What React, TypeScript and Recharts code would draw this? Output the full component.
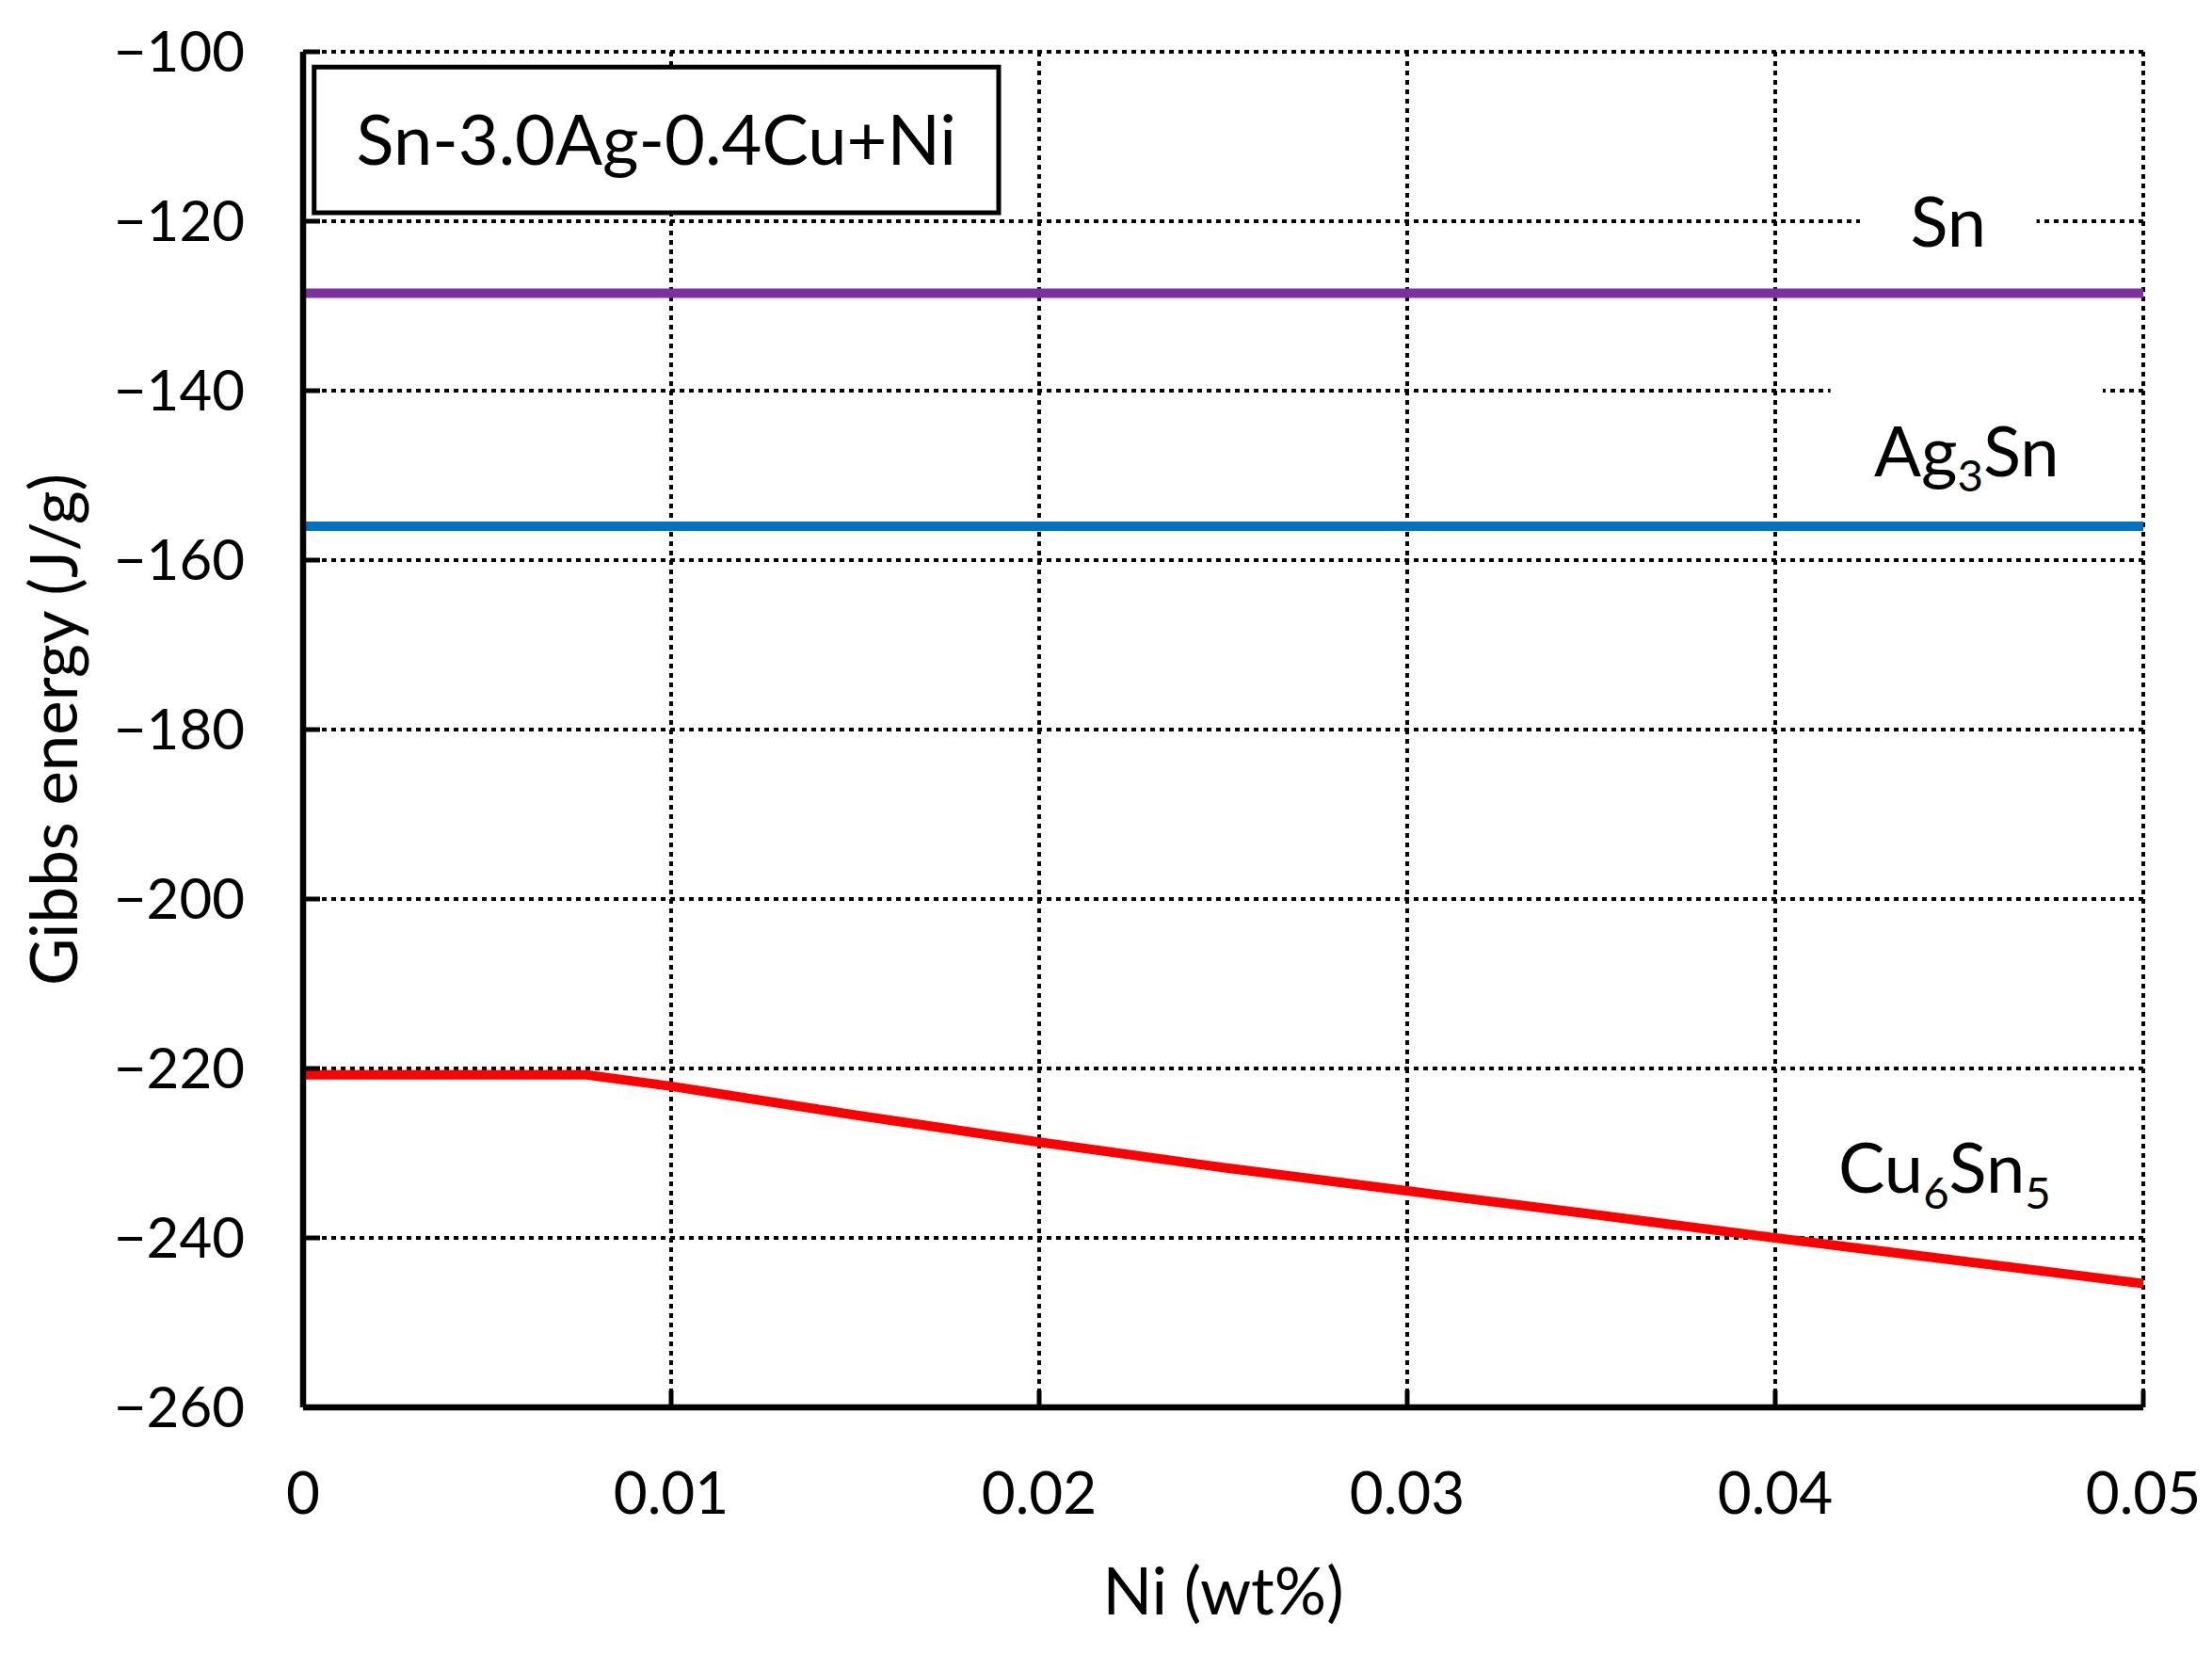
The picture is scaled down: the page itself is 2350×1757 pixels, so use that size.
import React from "react";
import {
  LineChart,
  Line,
  XAxis,
  YAxis,
  CartesianGrid,
  ReferenceArea,
  Label,
} from "recharts";

const niTicks = [0, 0.01, 0.02, 0.03, 0.04, 0.05];
const gibbsTicks = [-260, -240, -220, -200, -180, -160, -140, -120, -100];

const snX = [0, 0.05];
const snG = [-128.5, -128.5];

const ag3snX = [0, 0.05];
const ag3snG = [-156, -156];

const cu6sn5X = [0, 0.0077, 0.01, 0.015, 0.02, 0.025, 0.03, 0.035, 0.04, 0.045, 0.05];
const cu6sn5G = [-220.75, -220.75, -222.1, -225.5, -228.7, -231.7, -234.45, -237.2, -240.0, -242.7, -245.4];

const toRows = (xs: number[], ys: number[]) => xs.map((x, i) => ({ x, g: ys[i] }));

const snData = toRows(snX, snG);
const ag3snData = toRows(ag3snX, ag3snG);
const cu6sn5Data = toRows(cu6sn5X, cu6sn5G);

const FONT = "Lato, 'Noto Sans', sans-serif";

const fmtY = (v: number) => (v < 0 ? "\u2212" + Math.abs(v) : String(v));

// text centred in a reference area's box, with optional subscripts
const phaseLabel =
  (parts: { t: string; sub?: boolean }[], size = 74) =>
  (props: any) => {
    const vb = props.viewBox || {};
    const cx = vb.x + vb.width / 2;
    const cy = vb.y + vb.height / 2;
    const shift = size * 0.22;
    return (
      <text
        x={cx}
        y={cy + size * 0.36}
        textAnchor="middle"
        fontFamily={FONT}
        fontSize={size}
        fill="#000"
      >
        {parts.map((p, i) => {
          if (p.sub)
            return (
              <tspan key={i} fontSize={size * 0.64} dy={shift}>
                {p.t}
              </tspan>
            );
          const back = i > 0 && parts[i - 1].sub;
          return (
            <tspan key={i} dy={back ? -shift : undefined}>
              {p.t}
            </tspan>
          );
        })}
      </text>
    );
  };

export default function App() {
  return (
    <div style={{ position: "absolute", left: 0, top: 0, background: "#fff" }}>
      <LineChart
        width={2350}
        height={1757}
        margin={{ top: 55, right: 73, bottom: 0, left: 0 }}
      >
        <CartesianGrid
          stroke="#000"
          strokeWidth={4}
          strokeDasharray="5 5"
          horizontal
          vertical
        />
        <XAxis
          type="number"
          dataKey="x"
          domain={[0, 0.05]}
          ticks={niTicks}
          allowDataOverflow
          height={262}
          tickSize={-18}
          tickMargin={87}
          tick={{ fontFamily: FONT, fontSize: 62, fill: "#000" }}
          tickLine={{ stroke: "#000", strokeWidth: 5 }}
          axisLine={{ stroke: "#000", strokeWidth: 6.5 }}
        >
          <Label
            content={(p: any) => {
              const vb = p.viewBox;
              return (
                <text
                  x={vb.x + vb.width / 2}
                  y={vb.y + vb.height - 42}
                  textAnchor="middle"
                  fontFamily={FONT}
                  fontSize={69}
                  fill="#000"
                >
                  Ni (wt%)
                </text>
              );
            }}
          />
        </XAxis>
        <XAxis
          xAxisId="top"
          orientation="top"
          type="number"
          domain={[0, 0.05]}
          height={0}
          tick={false}
          tickLine={false}
          axisLine={{ stroke: "#000", strokeWidth: 6.5 }}
        />
        <YAxis
          type="number"
          domain={[-260, -100]}
          ticks={gibbsTicks}
          allowDataOverflow
          width={322}
          tickSize={-18}
          tickMargin={80}
          tickFormatter={fmtY}
          tick={{ fontFamily: FONT, fontSize: 60, fill: "#000" }}
          tickLine={{ stroke: "#000", strokeWidth: 5 }}
          axisLine={{ stroke: "#000", strokeWidth: 6.5 }}
        >
          <Label
            content={(p: any) => {
              const vb = p.viewBox;
              const cy = vb.y + vb.height / 2;
              return (
                <text
                  x={82}
                  y={cy}
                  transform={`rotate(-90, 82, ${cy})`}
                  textAnchor="middle"
                  fontFamily={FONT}
                  fontSize={69}
                  fill="#000"
                >
                  Gibbs energy (J/g)
                </text>
              );
            }}
          />
        </YAxis>
        <YAxis
          yAxisId="right"
          orientation="right"
          type="number"
          domain={[-260, -100]}
          width={0}
          tick={false}
          tickLine={false}
          axisLine={{ stroke: "#000", strokeWidth: 6.5 }}
        />

        <ReferenceArea
          x1={0.0003}
          x2={0.0189}
          y1={-119}
          y2={-101.8}
          fill="#fff"
          fillOpacity={1}
          stroke="#000"
          strokeWidth={5}
          label={phaseLabel([{ t: "Sn-3.0Ag-0.4Cu+Ni" }], 74)}
        />
        <ReferenceArea
          x1={0.0423}
          x2={0.0471}
          y1={-124.5}
          y2={-115.5}
          fill="#fff"
          fillOpacity={1}
          stroke="none"
          label={phaseLabel([{ t: "Sn" }])}
        />
        <ReferenceArea
          x1={0.0415}
          x2={0.0489}
          y1={-156.2}
          y2={-138}
          fill="#fff"
          fillOpacity={1}
          stroke="none"
          label={phaseLabel([{ t: "Ag" }, { t: "3", sub: true }, { t: "Sn" }])}
        />
        <ReferenceArea
          x1={0.0411}
          x2={0.0481}
          y1={-236}
          y2={-227.5}
          fill="none"
          stroke="none"
          label={phaseLabel([
            { t: "Cu" },
            { t: "6", sub: true },
            { t: "Sn" },
            { t: "5", sub: true },
          ])}
        />

        <Line
          data={snData}
          dataKey="g"
          type="linear"
          stroke="#7F30A0"
          strokeWidth={10}
          dot={false}
          activeDot={false}
          isAnimationActive={false}
        />
        <Line
          data={ag3snData}
          dataKey="g"
          type="linear"
          stroke="#0070C0"
          strokeWidth={10}
          dot={false}
          activeDot={false}
          isAnimationActive={false}
        />
        <Line
          data={cu6sn5Data}
          dataKey="g"
          type="linear"
          stroke="#FF0000"
          strokeWidth={10}
          dot={false}
          activeDot={false}
          isAnimationActive={false}
        />
      </LineChart>
    </div>
  );
}
